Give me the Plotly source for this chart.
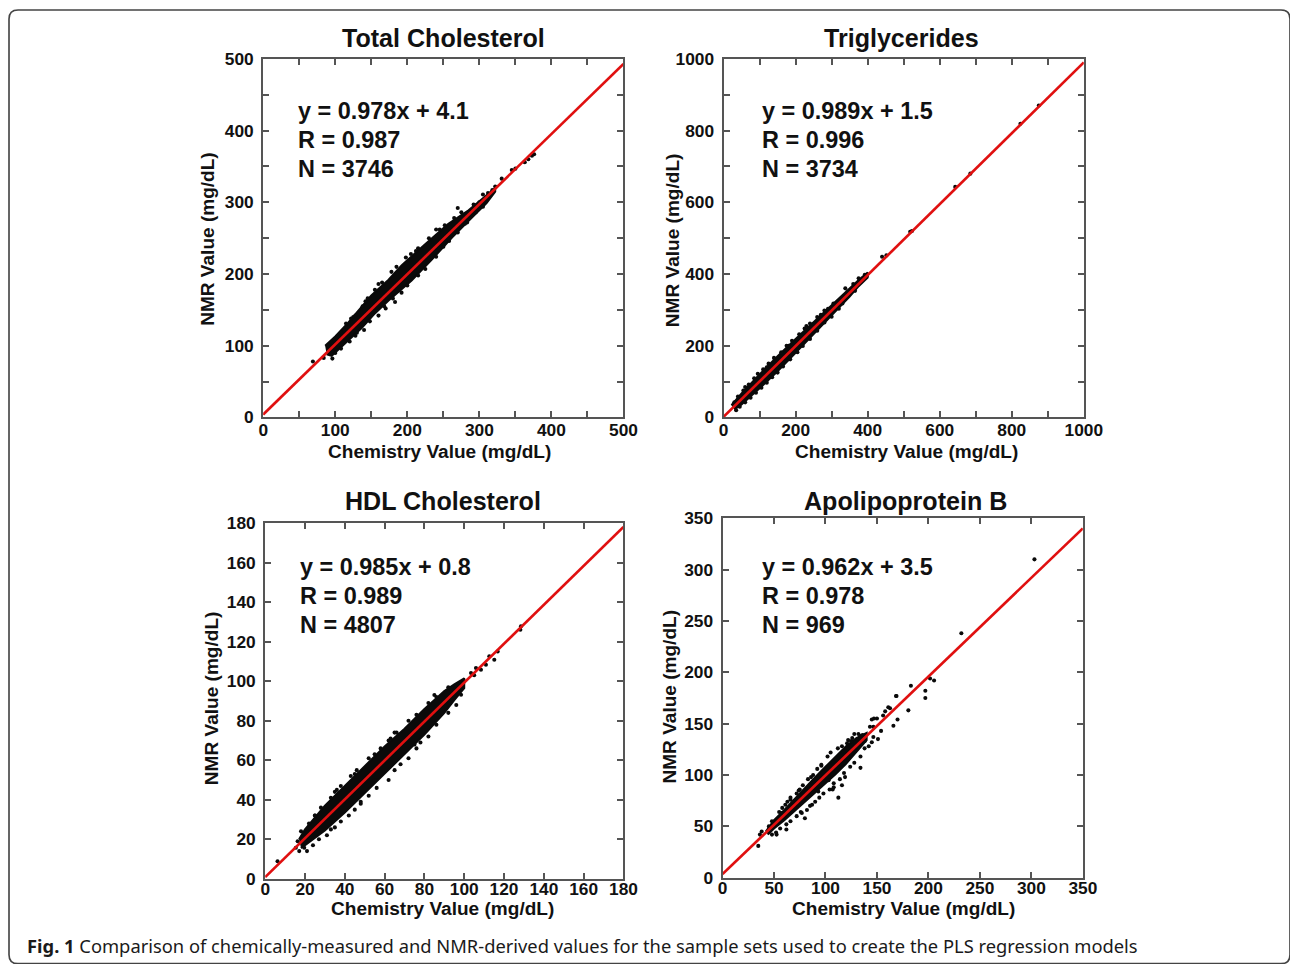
import plotly.graph_objects as go

# ---------------- data ----------------
titles = ["Total Cholesterol", "Triglycerides", "HDL Cholesterol", "Apolipoprotein B"]
slopes = [0.978, 0.989, 0.985, 0.962]
intercepts = [4.1, 1.5, 0.8, 3.5]
r_values = ["0.987", "0.996", "0.989", "0.978"]
n_values = ["3746", "3734", "4807", "969"]
axis_max = [500, 1000, 180, 350]
tick_step = [50, 100, 20, 50]
label_step = [100, 200, 20, 50]

# Total cholesterol: dense cloud envelope + sparse points
tc_upper_x = [86, 100, 118, 135, 150, 174, 192, 224, 257, 285, 306, 322]
tc_upper_y = [100, 113, 132, 152, 170, 192, 212, 241, 270, 289, 306, 320]
tc_lower_x = [322, 310, 289, 262, 234, 206, 174, 155, 137, 115, 95, 88]
tc_lower_y = [315, 299, 278, 251, 220, 191, 163, 145, 125, 104, 86, 88]
tc_pts_x = [69, 84, 90, 96, 104, 112, 125, 130, 145, 183, 168, 212, 240, 270, 300, 305,
            312, 318, 322, 331, 345, 350, 363, 368, 373, 376, 283, 296,
            95, 102, 108, 115, 122, 128, 138, 142, 155, 160, 165, 178, 185, 198, 205, 215,
            230, 245, 252, 265, 275, 292,
            100, 108, 120, 128, 140, 148, 160, 170, 180, 192, 200, 215, 225, 240, 250, 258,
            270, 280, 295, 305]
tc_pts_y = [78, 83, 100, 82, 112, 122, 140, 118, 166, 161, 155, 232, 262, 292, 300, 311,
            313, 317, 322, 333, 345, 347, 356, 360, 365, 367, 272, 296,
            104, 110, 118, 131, 138, 142, 155, 162, 178, 186, 188, 203, 210, 223, 228, 236,
            250, 262, 268, 278, 286, 297,
            90, 96, 106, 114, 122, 134, 142, 152, 166, 174, 184, 198, 207, 224, 238, 246,
            258, 270, 286, 294]

# Triglycerides
tg_upper_x = [22, 50, 100, 150, 200, 250, 300, 350, 375, 400]
tg_upper_y = [34, 67, 120, 171, 219, 266, 312, 359, 383, 404]
tg_lower_x = [400, 375, 350, 300, 250, 200, 150, 100, 50, 30]
tg_lower_y = [390, 366, 337, 285, 232, 180, 129, 81, 36, 22]
tg_pts_x = [440, 452, 518, 523, 643, 685, 824, 875, 305, 338, 345, 360, 375, 392, 398,
            270, 285, 60, 120, 180, 230,
            30, 40, 55, 70, 85, 95, 110, 125, 140, 160, 175, 190, 210, 225, 240, 260, 280, 290,
            35, 45, 60, 75, 90, 105, 120, 135, 150, 165, 185, 205, 220, 240, 260, 280, 300,
            320, 330, 365]
tg_pts_y = [448, 452, 518, 520, 643, 680, 819, 870, 318, 360, 350, 372, 388, 398, 396,
            286, 275, 85, 140, 200, 255,
            42, 58, 75, 92, 109, 122, 134, 150, 166, 182, 200, 214, 232, 248, 262, 280, 298, 303,
            20, 30, 42, 55, 69, 83, 97, 112, 125, 142, 162, 182, 199, 219, 242, 265, 281,
            303, 318, 353]

# HDL cholesterol
hdl_upper_x = [17, 20, 30, 40, 50, 60, 70, 80, 90, 95, 100]
hdl_upper_y = [20, 25, 37, 47, 57, 67, 76, 86, 95, 98.5, 101.5]
hdl_lower_x = [100, 95, 90, 80, 70, 60, 50, 40, 30, 20, 18]
hdl_lower_y = [96.5, 90.5, 84, 73, 63, 53, 43, 33.5, 24.5, 17, 15.5]
hdl_pts_x = [6.2, 16.3, 15.4, 17.1, 19.6, 100, 97.5, 95, 98.4, 103.4, 105, 105.9, 108.4,
             110.9, 112.6, 115.1, 116.8, 128.2, 128.5, 25, 35, 45, 55, 65, 75, 85, 33, 48, 62, 78,
             18, 22, 25, 28, 33, 36, 38, 43, 46, 52, 55, 58, 63, 66, 72, 76, 82, 86, 92,
             21, 24, 27, 31, 35, 38, 42, 45, 48, 52, 56, 62, 65, 68, 72, 76, 82, 86, 92, 96]
hdl_pts_y = [8.9, 19, 15.7, 14, 15.7, 100, 97.4, 95.7, 93.2, 104.2, 103, 106.7, 105.8,
             108.4, 112.6, 110.9, 115.1, 126.1, 127.8, 32, 44, 53, 50, 74, 68, 93, 25, 39, 70, 69,
             24, 28, 32, 36, 41, 45, 47, 52, 55, 61, 63, 66, 71, 74, 80, 83, 89, 92, 97,
             14, 17, 20, 22, 26, 29, 32, 35, 38, 42, 46, 50, 55, 58, 61, 66, 72, 78, 84, 88]

# Apolipoprotein B
apo_upper_x = [42, 50, 60, 70, 80, 90, 100, 110, 120, 130, 140]
apo_upper_y = [45, 56, 66, 77, 88, 98, 108, 118, 128, 136, 141]
apo_lower_x = [140, 130, 120, 110, 100, 90, 80, 70, 60, 50, 44]
apo_lower_y = [134, 122, 111, 101, 92, 83, 74, 65, 56, 48, 42]
apo_pts_x = [303, 232, 205.5, 201.6, 197, 197, 183, 180.5, 169, 170, 166, 161, 158, 156,
             154, 150, 145, 151, 146.5, 134, 112.5, 107, 116, 34.7, 36.3, 52.5, 62, 57,
             168.5, 162.7, 147.1, 143.2, 119, 108, 103, 96, 61, 57, 49, 38, 70, 77,
             80, 87, 93, 103, 125, 134, 138, 146.5, 145, 88, 74, 66, 121, 128,
             45, 48, 55, 58, 63, 66, 72, 75, 78, 83, 86, 92, 96, 102, 105, 112, 116, 122, 126,
             132, 136, 48, 52, 56, 62, 66, 72, 76, 82, 85, 90, 94, 98, 104, 108, 114, 118, 124,
             128, 134, 138, 142]
apo_pts_y = [310, 238, 192, 194, 182, 175, 187, 163, 177, 154, 148, 166, 162, 158,
             143, 155, 154, 135, 147, 107, 78, 86, 90, 31, 42, 42, 47, 57,
             177, 165, 155, 147, 98, 88, 95, 109, 71, 63, 52, 45, 71, 63,
             58, 71, 84, 101, 133, 138, 133, 137, 132, 100, 85, 76, 131, 140,
             50, 55, 64, 68, 74, 78, 82, 86, 90, 96, 98, 106, 110, 118, 122, 126, 128, 134, 136,
             140, 139, 42, 44, 48, 52, 55, 60, 64, 66, 70, 74, 78, 82, 86, 92, 96, 102, 108,
             112, 118, 126, 128]

clouds = [
    (tc_upper_x, tc_upper_y, tc_lower_x, tc_lower_y, tc_pts_x, tc_pts_y),
    (tg_upper_x, tg_upper_y, tg_lower_x, tg_lower_y, tg_pts_x, tg_pts_y),
    (hdl_upper_x, hdl_upper_y, hdl_lower_x, hdl_lower_y, hdl_pts_x, hdl_pts_y),
    (apo_upper_x, apo_upper_y, apo_lower_x, apo_lower_y, apo_pts_x, apo_pts_y),
]

# ---------------- layout geometry (target picture pixels) ----------------
boxes = [(262, 622, 57, 416), (722, 1082, 57, 416), (264, 622, 522, 878), (721, 1081, 517, 877)]
title_pos = [(442, 36), (900, 36), (442, 500), (904, 500)]
stats_pos = [(295, 109), (758, 109), (297, 566), (758, 566)]
ytitle_pos = [(207, 237), (671, 239), (210, 697), (668, 696)]
xtitle_pos = [(438, 450), (905, 450), (441, 908), (902, 908)]
xlab_standoff = [-4, -4, -7, -7]

# the page is photographed slightly reduced and offset; compensate
S, OX, OY = 0.981, 4.0, 8.0
W, H = 1315, 980


def px(x):
    return (x - OX) / S / W


def py(y):
    return 1 - (y - OY) / S / H


def fs(v):
    return v / S


FONT = "Liberation Sans, Arial, sans-serif"
fig = go.Figure()
annotations = []
layout_axes = {}

for i in range(4):
    ax = "" if i == 0 else str(i + 1)
    xref, yref = "x" + ax, "y" + ax
    ux, uy, lx, ly, ptx, pty = clouds[i]
    fig.add_trace(go.Scatter(x=ux + lx, y=uy + ly, xaxis=xref, yaxis=yref, mode="lines",
                             fill="toself", fillcolor="#0a0a0a",
                             line=dict(color="#0a0a0a", width=2), hoverinfo="skip",
                             showlegend=False))
    fig.add_trace(go.Scatter(x=ptx, y=pty, xaxis=xref, yaxis=yref, mode="markers",
                             marker=dict(color="#0a0a0a", size=fs(4)), showlegend=False))
    m, b, mx = slopes[i], intercepts[i], axis_max[i]
    fig.add_trace(go.Scatter(x=[0, mx], y=[b, m * mx + b], xaxis=xref, yaxis=yref,
                             mode="lines", line=dict(color="#e01010", width=fs(2.6)),
                             showlegend=False))

    l, r, t, bt = boxes[i]
    tv = list(range(0, mx + 1, tick_step[i]))
    tt = [str(v) if v % label_step[i] == 0 else "" for v in tv]
    common = dict(range=[0, mx], tickvals=tv, ticktext=tt, ticks="inside", ticklen=fs(6),
                  tickwidth=1.5, tickcolor="#555", showline=True, linecolor="#555",
                  linewidth=fs(2), mirror="ticks", showgrid=False, zeroline=False,
                  tickfont=dict(family=FONT, size=fs(17), color="#111", weight="bold"),
                  fixedrange=True)
    layout_axes["xaxis" + ax] = dict(domain=[px(l), px(r)], anchor=yref,
                                     ticklabelstandoff=xlab_standoff[i], **common)
    layout_axes["yaxis" + ax] = dict(domain=[py(bt), py(t)], anchor=xref,
                                     ticklabelstandoff=4, **common)

    annotations.append(dict(text=titles[i], x=px(title_pos[i][0]), y=py(title_pos[i][1]),
                            xref="paper", yref="paper", showarrow=False,
                            xanchor="center", yanchor="middle",
                            font=dict(family=FONT, size=fs(24.6), color="#111", weight="bold")))
    stats = ["y = %.3fx + %.1f" % (slopes[i], intercepts[i]),
             "R = " + r_values[i], "N = " + n_values[i]]
    for k, s in enumerate(stats):
        annotations.append(dict(text=s, x=px(stats_pos[i][0]), y=py(stats_pos[i][1] + 29 * k),
                                xref="paper", yref="paper", showarrow=False,
                                xanchor="left", yanchor="middle",
                                font=dict(family=FONT, size=fs(23), color="#111", weight="bold")))
    annotations.append(dict(text="NMR Value (mg/dL)", x=px(ytitle_pos[i][0]),
                            y=py(ytitle_pos[i][1]), xref="paper", yref="paper",
                            showarrow=False, textangle=-90, xanchor="center",
                            yanchor="middle",
                            font=dict(family=FONT, size=fs(18.7), color="#111", weight="bold")))
    annotations.append(dict(text="Chemistry Value (mg/dL)", x=px(xtitle_pos[i][0]),
                            y=py(xtitle_pos[i][1]), xref="paper", yref="paper",
                            showarrow=False, xanchor="center", yanchor="middle",
                            font=dict(family=FONT, size=fs(18.7), color="#111", weight="bold")))

annotations.append(dict(
    text="<b>Fig. 1</b> Comparison of chemically-measured and NMR-derived values for the "
         "sample sets used to create the PLS regression models",
    x=px(24), y=py(945), xref="paper", yref="paper", showarrow=False,
    xanchor="left", yanchor="middle",
    font=dict(family="Noto Sans, Open Sans, sans-serif", size=fs(18), color="#1a1a1a")))

# rounded outer frame
fl, fr, ft, fb, rad = 8, 1288, 8, 963, 9
path = (f"M {px(fl)},{py(ft + rad)} Q {px(fl)},{py(ft)} {px(fl + rad)},{py(ft)} "
        f"L {px(fr - rad)},{py(ft)} Q {px(fr)},{py(ft)} {px(fr)},{py(ft + rad)} "
        f"L {px(fr)},{py(fb - rad)} Q {px(fr)},{py(fb)} {px(fr - rad)},{py(fb)} "
        f"L {px(fl + rad)},{py(fb)} Q {px(fl)},{py(fb)} {px(fl)},{py(fb - rad)} Z")

fig.update_layout(
    width=W, height=H, margin=dict(l=0, r=0, t=0, b=0),
    paper_bgcolor="white", plot_bgcolor="white", showlegend=False,
    annotations=annotations,
    shapes=[dict(type="path", path=path, xref="paper", yref="paper",
                 line=dict(color="#444", width=fs(1.6)))],
    **layout_axes,
)

fig.write_html("out.html", config={"displayModeBar": False},
               post_script="document.body.style.margin='0';"
                           "document.body.style.overflow='hidden';")
